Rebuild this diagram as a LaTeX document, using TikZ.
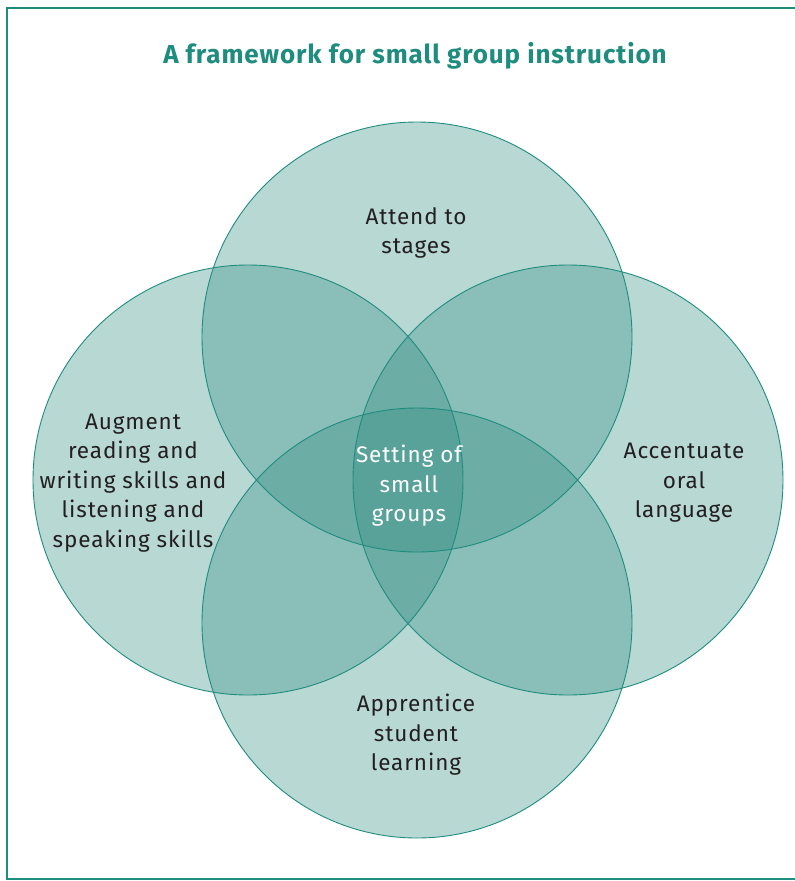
\documentclass[tikz,border=0pt]{standalone}
\usepackage{fontspec}
\setmainfont{Fira Sans}
\newfontfamily\lblfont[LetterSpace=4]{Fira Sans}
\newfontfamily\ttlfont[LetterSpace=3.5]{Fira Sans}
\definecolor{teal1}{RGB}{30,140,126}
\definecolor{fillc}{RGB}{53,144,133}
\definecolor{txt}{RGB}{35,31,32}
\begin{document}
\begin{tikzpicture}[x=1pt,y=-1pt,
  venn/.style={circle,minimum size=430pt,inner sep=0pt,fill=fillc,fill opacity=0.35},
  ring/.style={draw=teal1,line width=0.9pt},
  lbl/.style={align=center,text=txt,font=\lblfont\fontsize{22.5}{29.5}\selectfont},
  mid/.style={align=center,text=white,font=\lblfont\fontsize{22.5}{29.5}\selectfont},
  ttl/.style={text=teal1,font=\ttlfont\bfseries\fontsize{26}{30}\selectfont}]
\useasboundingbox (0,0) rectangle (795,881);
\fill[white] (0,0) rectangle (795,881);
\draw[teal1,line width=2.5pt] (7,8) rectangle (810,879);
\node[ttl] (title) at (415,56) {A framework for small group instruction};
\node[venn] (top) at (417,337) {};
\node[venn] (bottom) at (417,623) {};
\node[venn] (left) at (248,480) {};
\node[venn] (right) at (568,480) {};
\foreach \c in {top,bottom,left,right} \draw[ring] (\c.center) circle (215);
\node[lbl] (attend) at (416,233) {Attend to\\stages};
\node[lbl] (augment) at (133,483) {Augment\\reading and\\writing skills and\\listening and\\speaking skills};
\node[lbl] (accent) at (684,483) {Accentuate\\oral\\language};
\node[lbl] (appr) at (416,735) {Apprentice\\student\\learning};
\node[mid] (setting) at (409,486) {Setting of\\small\\groups};
\end{tikzpicture}
\end{document}
